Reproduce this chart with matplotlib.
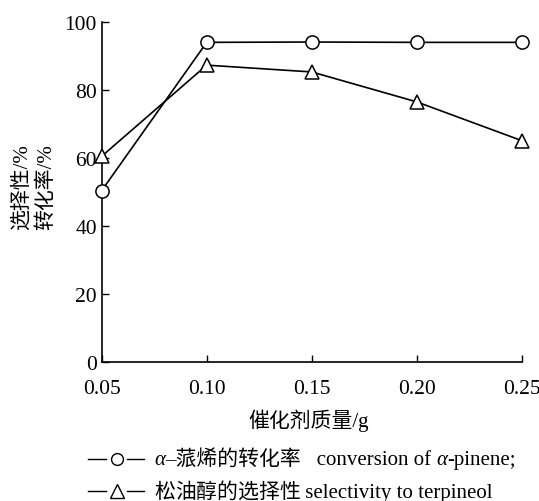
import matplotlib
matplotlib.use("Agg")
import matplotlib.pyplot as plt
from matplotlib.lines import Line2D
from matplotlib.offsetbox import TextArea, HPacker, AnnotationBbox

plt.rcParams["font.family"] = ["Liberation Serif", "Noto Sans CJK SC"]

# ── data ─────────────────────────────────────────────────────────────────────
mass = [0.05, 0.10, 0.15, 0.20, 0.25]          # catalyst mass / g
conversion = [50.5, 94.1, 94.2, 94.1, 94.1]     # alpha-pinene conversion / %
selectivity = [60.6, 87.4, 85.4, 76.6, 65.2]    # terpineol selectivity / %
x_ticks = [0.05, 0.10, 0.15, 0.20, 0.25]
x_tick_labels = ["0.05", "0.10", "0.15", "0.20", "0.25"]
y_ticks = [0, 20, 40, 60, 80, 100]

# ── figure ───────────────────────────────────────────────────────────────────
W, H = 539, 502
fig = plt.figure(figsize=(W / 100, H / 100), dpi=100)
ax = fig.add_axes([101.7 / W, 1 - 363.3 / H, 420 / W, 340 / H])

style = dict(color="black", lw=1.2, mfc="white", mec="black",
             mew=1.1, clip_on=False, zorder=3)
ax.plot(mass, conversion, marker="o", ms=9.5, **style)
ax.plot(mass, selectivity, marker="^", ms=10.5, **style)

ax.set_xlim(0.05, 0.25)
ax.set_ylim(0, 100)
ax.set_xticks(x_ticks)
ax.set_xticklabels(x_tick_labels)
ax.set_yticks(y_ticks)
ax.tick_params(direction="in", length=5, width=1.0, labelsize=15.5)
ax.tick_params(axis="x", pad=12)
ax.tick_params(axis="y", pad=3.5)
for side in ("top", "right"):
    ax.spines[side].set_visible(False)
for side in ("left", "bottom"):
    ax.spines[side].set_linewidth(1.2)

# axis titles
fig.text(34 / W, 1 - 187 / H, "选择性/%\n转化率/%", rotation=90,
         ha="center", va="center", fontsize=15, linespacing=1.3)
fig.text(309 / W, 1 - 421 / H, "催化剂质量/g", ha="center", va="center",
         fontsize=15)

# ── legend rows below the plot ──────────────────────────────────────────────
def txt(t, fs=15, **kw):
    return TextArea(t, textprops=dict(fontsize=fs, **kw))

def spaced(t, gap):
    # chinese run, one box per character so it spreads like the original
    return HPacker(children=[txt(c) for c in t], align="baseline", pad=0, sep=gap)

def key(marker, ms, y):
    # "—o—" key: two short dashes with the open marker between them
    yf = 1 - y / H
    for x0, x1 in ((88, 106), (127, 144)):
        fig.add_artist(Line2D([x0 / W, x1 / W], [yf, yf], color="black",
                              lw=1.0, transform=fig.transFigure))
    fig.add_artist(Line2D([116.5 / W], [yf], marker=marker, ms=ms, mfc="white",
                          mec="black", mew=1.0, transform=fig.transFigure))

def row(boxes, y):
    pack = HPacker(children=boxes, align="baseline", pad=0, sep=0)
    ab = AnnotationBbox(pack, (154 / W, 1 - y / H), xycoords="figure fraction",
                        box_alignment=(0, 0.5), frameon=False, pad=0)
    fig.add_artist(ab)

key("o", 8.5, 460)
row([txt("α", style="italic"), txt("–蒎烯的转化率"), txt("   conversion of "),
     txt("α", style="italic"), txt("-pinene;")], 460)
key("^", 10, 492)
row([spaced("松油醇的选择性", 0), txt(" selectivity to terpineol")], 493)

plt.savefig("out.png", dpi=100)
plt.close()
